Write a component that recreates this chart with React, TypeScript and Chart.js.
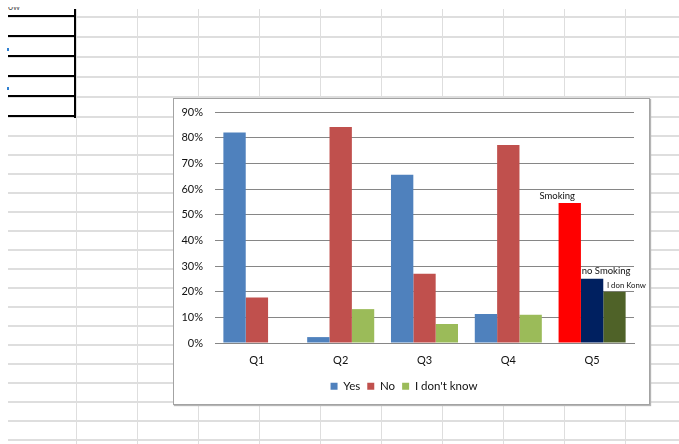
import React, { useEffect, useRef } from "react";
import { Chart, registerables } from "chart.js";

Chart.register(...registerables);

// ---- data ----
const categories = ["Q1", "Q2", "Q3", "Q4", "Q5"];
const seriesNames = ["Yes", "No", "I don't know"];
const yesValues = [82, 2.3, 65.6, 11.3, 54.5];
const noValues = [17.7, 84.2, 27, 77.1, 25];
const dontKnowValues = [0, 13.2, 7.4, 11, 20];
const q5Labels = ["Smoking", "no Smoking", "I don Konw"];
const yMin = 0;
const yMax = 90;
const yStep = 10;

// ---- styles ----
const seriesColors = ["#4F81BD", "#C0504D", "#9BBB59"];
const q5Colors = ["#FF0000", "#002060", "#4F6228"];
const FONT = "Lato, 'Open Sans', sans-serif";
const TEXT = "#111";

const q5LabelPlugin = {
  id: "q5Labels",
  afterDatasetsDraw(chart: any) {
    const ctx = chart.ctx;
    const idx = categories.length - 1;
    const styles = [
      { dx: -12.5, dy: 7, size: 9.5 },
      { dx: 14, dy: 8, size: 9.5 },
      { dx: 12, dy: 6, size: 7.8 },
    ];
    q5Labels.forEach((text, d) => {
      const el = chart.getDatasetMeta(d).data[idx];
      if (!el) return;
      const s = styles[d];
      ctx.save();
      ctx.font = `${s.size}px ${FONT}`;
      ctx.fillStyle = TEXT;
      ctx.textAlign = "center";
      ctx.textBaseline = "middle";
      ctx.fillText(text, el.x + s.dx, el.y - s.dy);
      ctx.restore();
    });
  },
};

function ChartCanvas() {
  const ref = useRef<HTMLCanvasElement | null>(null);
  useEffect(() => {
    if (!ref.current) return;
    const allValues = [yesValues, noValues, dontKnowValues];
    const chart = new Chart(ref.current, {
      type: "bar",
      data: {
        labels: categories,
        datasets: seriesNames.map((name, d) => ({
          label: name,
          data: allValues[d],
          backgroundColor: (c: any) =>
            c.type === "data" && c.dataIndex === categories.length - 1
              ? q5Colors[d]
              : seriesColors[d],
          borderWidth: 0,
          categoryPercentage: 0.8,
          barPercentage: 1.0,
        })),
      },
      options: {
        animation: false,
        responsive: true,
        maintainAspectRatio: false,
        layout: { padding: { left: 0, right: 15, top: 13, bottom: 2 } },
        plugins: {
          tooltip: { enabled: false },
          legend: {
            position: "bottom",
            labels: {
              boxWidth: 7,
              boxHeight: 7,
              padding: 7,
              color: TEXT,
              font: { family: FONT, size: 11.5 },
              generateLabels: () =>
                seriesNames.map((name, d) => ({
                  text: name,
                  fillStyle: seriesColors[d],
                  strokeStyle: seriesColors[d],
                  lineWidth: 0,
                  hidden: false,
                  datasetIndex: d,
                  fontColor: TEXT,
                })),
            },
          },
        },
        scales: {
          x: {
            grid: { display: false, drawTicks: false },
            border: { display: true, color: "#868686", width: 1 },
            ticks: {
              color: TEXT,
              font: { family: FONT, size: 11 },
              padding: 11,
            },
            afterFit: (s: any) => {
              s.height = 30.5;
            },
          },
          y: {
            min: yMin,
            max: yMax,
            grid: {
              color: "#868686",
              lineWidth: 1,
              drawTicks: true,
              tickLength: 12,
              tickColor: "rgba(0,0,0,0)",
            },
            border: { display: false },
            ticks: {
              stepSize: yStep,
              color: TEXT,
              font: { family: FONT, size: 11 },
              padding: 0,
              callback: (v: any) => `${v}%`,
            },
            afterFit: (s: any) => {
              s.width = 41;
            },
          },
        },
      },
      plugins: [q5LabelPlugin],
    } as any);
    return () => chart.destroy();
  }, []);
  return <canvas ref={ref} />;
}

// spreadsheet background decoration
const rowLinesTop = [16, 36, 56, 76, 96];
const rowLinesBottom = Array.from({ length: 18 }, (_, i) => 116 + i * 19);
const colLines = [76, 137, 198, 259, 320, 381, 442, 503, 564, 625];
const tableLines = [15, 35, 55, 75, 95, 115];

export default function App() {
  const gridColor = "#dedede";
  return (
    <div
      style={{
        position: "absolute",
        left: 0,
        top: 0,
        width: 679,
        height: 444,
        overflow: "hidden",
        background: "#fff",
        fontFamily: FONT,
      }}
    >
      {[...rowLinesTop, ...rowLinesBottom].map((y) => (
        <div
          key={"h" + y}
          style={{ position: "absolute", left: 8, top: y, width: 671, height: 1.5, background: gridColor }}
        />
      ))}
      {colLines.map((x) => (
        <div
          key={"v" + x}
          style={{ position: "absolute", left: x, top: 9, width: 1.3, height: 435, background: gridColor }}
        />
      ))}
      {tableLines.map((y) => (
        <div
          key={"t" + y}
          style={{ position: "absolute", left: 8, top: y, width: 68, height: 2.2, background: "#000" }}
        />
      ))}
      <div style={{ position: "absolute", left: 74, top: 9, width: 2.4, height: 108.5, background: "#000" }} />
      <div style={{ position: "absolute", left: 7, top: 48, width: 2, height: 3, background: "#2f7fd0" }} />
      <div style={{ position: "absolute", left: 7, top: 87, width: 2, height: 3, background: "#2f7fd0" }} />
      <div
        style={{
          position: "absolute",
          left: 8,
          top: 7,
          width: 20,
          height: 4,
          overflow: "hidden",
        }}
      >
        <div style={{ position: "absolute", top: -5, left: 0, fontSize: 9, lineHeight: "9px", color: "#555" }}>ow</div>
      </div>
      <div
        style={{
          position: "absolute",
          left: 173,
          top: 98,
          width: 477,
          height: 307,
          boxSizing: "border-box",
          border: "1px solid #a3a3a3",
          boxShadow: "1px 1px 1px #b5b5b5",
          background: "#fff",
        }}
      >
        <div style={{ position: "absolute", left: 0, top: 0, width: 475, height: 305 }}>
          <ChartCanvas />
        </div>
      </div>
    </div>
  );
}
